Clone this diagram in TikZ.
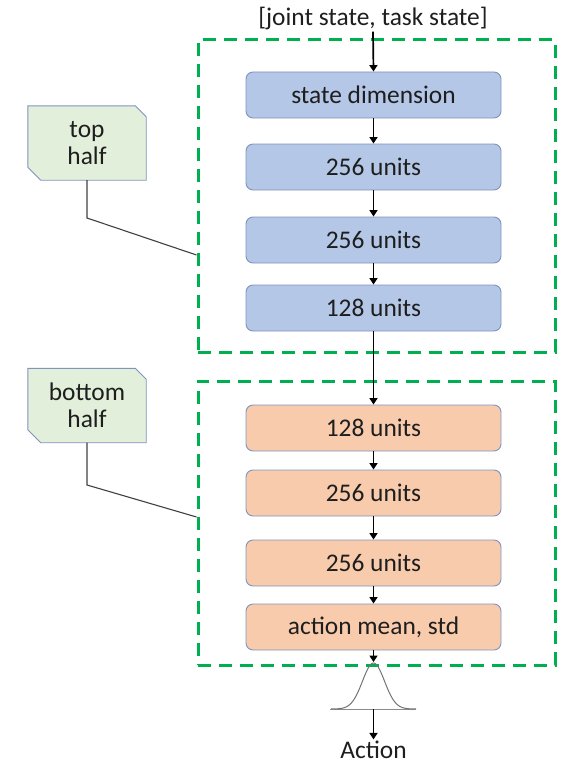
\documentclass[tikz,border=0pt]{standalone}
\usepackage{fontspec}
\setmainfont{Carlito}
\usetikzlibrary{arrows.meta,calc,backgrounds}
\definecolor{bluefill}{HTML}{B4C7E7}
\definecolor{orangefill}{HTML}{F8CBAD}
\definecolor{boxedge}{HTML}{7F93BF}
\definecolor{notefill}{HTML}{E2EFDA}
\definecolor{grpgreen}{HTML}{00B050}
\definecolor{textgray}{HTML}{1E1E1E}
\begin{document}
\begin{tikzpicture}[x=1bp,y=-1bp,
  txt/.style={font=\fontsize{25.5}{27}\selectfont, text=textgray},
  layer/.style={txt, draw=boxedge, line width=0.9bp, rounded corners=7bp,
    minimum width=255bp, minimum height=46bp, inner sep=0pt},
  enc/.style={layer, fill=bluefill},
  dec/.style={layer, fill=orangefill},
  group/.style={draw=grpgreen, line width=3bp, dash pattern=on 13bp off 8bp,
    inner sep=0pt},
  notebox/.style={txt, align=center, minimum width=118bp, minimum height=74bp, inner sep=0pt},
  noteedge/.style={draw=boxedge, fill=notefill, line width=0.9bp},
  flow/.style={-{Triangle[length=6.5bp,width=8bp]}, line width=1.7bp, black},
  leader/.style={draw=black!75, line width=1.1bp},
]
\useasboundingbox (0,0) rectangle (569,764);

% dashed group frames
\node[group, minimum width=357bp, minimum height=312bp] (topgrp) at (376.5,196) {};
\node[group, minimum width=357bp, minimum height=284bp] (botgrp) at (376.5,523) {};

% input label
\node[txt, inner sep=2bp] (inp) at (373,18) {[joint state, task state]};

% encoder layers
\node[enc] (sd)  at (373.5,95)  {state dimension};
\node[enc] (e1)  at (373.5,167) {256 units};
\node[enc] (e2)  at (373.5,240) {256 units};
\node[enc] (e3)  at (373.5,308) {128 units};

% decoder layers
\node[dec] (d1)  at (373.5,428) {128 units};
\node[dec] (d2)  at (373.5,493) {256 units};
\node[dec] (d3)  at (373.5,563) {256 units};
\node[dec] (act) at (373.5,627) {action mean, std};

% flow arrows
\draw[flow] (inp.south) -- (sd.north);
\draw[flow] (sd) -- (e1);
\draw[flow] (e1) -- (e2);
\draw[flow] (e2) -- (e3);
\draw[flow] (e3) -- (d1);
\draw[flow] (d1) -- (d2);
\draw[flow] (d2) -- (d3);
\draw[flow] (d3) -- (act);

% gaussian output distribution
\coordinate (peak) at (373.5,663);
\coordinate (base) at (373.5,709);
\draw[black!45, line width=0.9bp] (330,709) -- (416,709);
\draw[black!55, line width=1bp] plot[domain=331:416, samples=80]
  (\x, {709-46*exp(-((\x-373.5)/11)^2/2)});
\draw[flow, shorten >=1bp] (act.south) -- (peak);
\node[txt, inner sep=1bp] (out) at (373.5,749.5) {Action};
\draw[flow] (base) -- (out.north);

% side notes with cut corners
\node[notebox] (tophalf) at (87,143) {top\\half};
\node[notebox] (bothalf) at (87,405.5) {bottom\\half};
\begin{scope}[on background layer]
\foreach \n in {tophalf,bothalf}{
  \path[noteedge] (\n.north west) -- ($(\n.north east)+(-11,0)$)
    -- ($(\n.north east)+(0,11)$) -- (\n.south east)
    -- ($(\n.south west)+(13,0)$) -- ($(\n.south west)+(0,-13)$) -- cycle;
}
\end{scope}

% leader lines to the frames
\coordinate (tk) at (87,218);
\coordinate (bk) at (87,485);
\draw[leader] (tophalf.south) -- (tk) -- (topgrp.west |- 0,255);
\draw[leader] (bothalf.south) -- (bk) -- (botgrp.west |- 0,517);
\end{tikzpicture}
\end{document}
